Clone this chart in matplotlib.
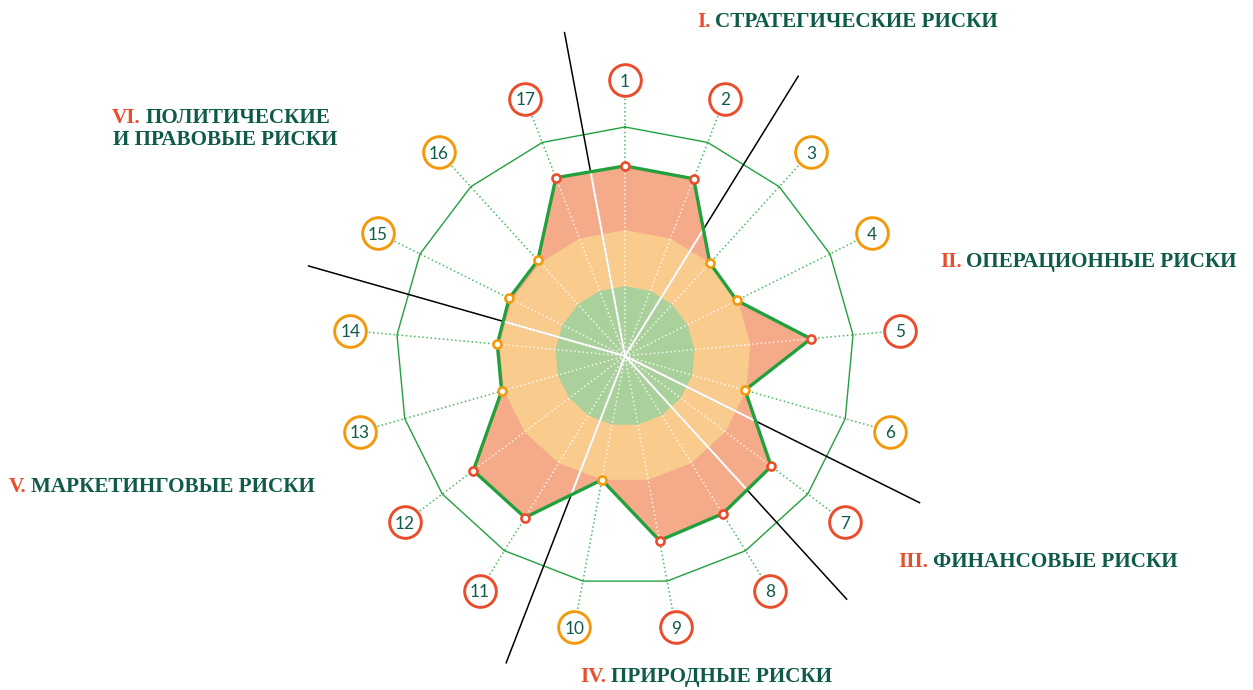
import numpy as np
import matplotlib
matplotlib.use("Agg")
import matplotlib.pyplot as plt

# Risk numbers around the chart, clockwise from the top
risk_ids = list(range(1, 18))
risk_level = [8.3, 8.3, 5.5, 5.45, 8.15, 5.45, 8.0, 8.1, 8.2, 5.5,
              8.3, 8.3, 5.6, 5.6, 5.65, 5.65, 8.35]
risk_grade = ["high", "high", "mid", "mid", "high", "mid", "high", "high", "high",
              "mid", "high", "high", "mid", "mid", "mid", "mid", "high"]

scale_max = 10.0
zone_low = 3.05
zone_mid = 5.5

# Last risk number of every group (group dividers go after these)
group_ends = [2, 6, 7, 10, 14, 17]
group_numerals = ["I.", "II.", "III.", "IV.", "V.", "VI."]
group_names = ["СТРАТЕГИЧЕСКИЕ РИСКИ", "ОПЕРАЦИОННЫЕ РИСКИ", "ФИНАНСОВЫЕ РИСКИ",
               "ПРИРОДНЫЕ РИСКИ", "МАРКЕТИНГОВЫЕ РИСКИ", "ПОЛИТИЧЕСКИЕ"]
group_name_extra = {5: "И ПРАВОВЫЕ РИСКИ"}

# ---- styling ----
W, H, DPI = 1253, 690, 100
RED = "#e94d2b"
ORANGE = "#f39a0c"
GRADE_COLOR = {"high": RED, "mid": ORANGE}
LINE_GREEN = "#22a03d"
DOT_GREEN = "#4db862"
TEXT_GREEN = "#0f5b49"
FILL_HIGH = "#f5aa8a"
FILL_MID = "#f9cc8e"
FILL_LOW = "#aad09b"

CX, CY = 625, 356          # centre of the chart, pixels from top-left
R_PX = 229                  # radius of the outer ring in pixels
R_MAX = 1.45                # polar limit, in units of the outer ring
LABEL_R = 1.205
DIVIDER_R = 1.44
HEAD_SIZE = 15.2

fig = plt.figure(figsize=(W / DPI, H / DPI), dpi=DPI)
half = R_MAX * R_PX
ax = fig.add_axes([(CX - half) / W, (H - CY - half) / H, 2 * half / W, 2 * half / H],
                  projection="polar")
ax.set_theta_zero_location("N")
ax.set_theta_direction(-1)
ax.set_ylim(0, R_MAX * scale_max)
ax.axis("off")

n = len(risk_ids)
theta = 2 * np.pi * np.arange(n) / n
theta_c = np.append(theta, theta[0])
level_c = np.append(risk_level, risk_level[0])

# spokes running out to the numbered circles
label_r = LABEL_R * scale_max
spoke_end = label_r - 17 / R_PX * scale_max
for t in theta:
    ax.plot([t, t], [0, spoke_end], color=DOT_GREEN, lw=1.1,
            linestyle=(0, (1, 1.7)), zorder=1)

# outer ring
ax.plot(theta_c, [scale_max] * (n + 1), color=LINE_GREEN, lw=1.0, zorder=1.5)

# risk profile fill and the coloured zones inside it
profile = ax.fill(theta_c, level_c, color=FILL_HIGH, lw=0, zorder=2)[0]
mid_zone = ax.fill(theta_c, [zone_mid] * (n + 1), color=FILL_MID, lw=0, zorder=2.1)[0]
low_zone = ax.fill(theta_c, [zone_low] * (n + 1), color=FILL_LOW, lw=0, zorder=2.2)[0]
mid_zone.set_clip_path(profile)
low_zone.set_clip_path(profile)

# white dotted spokes inside the profile
for t in theta:
    ln, = ax.plot([t, t], [0, spoke_end], color="white", lw=1.1, alpha=0.85,
                  linestyle=(0, (1, 1.7)), zorder=3)
    ln.set_clip_path(profile)

# group dividers: black outside, white inside the profile
step = 2 * np.pi / n
for k in group_ends:
    t = (k - 0.5) * step
    ax.plot([t, t], [0, DIVIDER_R * scale_max], color="black", lw=1.1, zorder=3.2,
            solid_capstyle="butt")
    wl, = ax.plot([t, t], [0, DIVIDER_R * scale_max], color="white", lw=1.6, zorder=3.4,
                  solid_capstyle="butt")
    wl.set_clip_path(profile)

# profile outline
ax.plot(theta_c, level_c, color=LINE_GREEN, lw=2.4, zorder=4, solid_joinstyle="miter")

# markers and numbered circles
for t, v, g, rid in zip(theta, risk_level, risk_grade, risk_ids):
    c = GRADE_COLOR[g]
    ax.plot([t], [v], marker="o", ms=5.8, mfc="white", mec=c, mew=1.9, zorder=5)
    ax.plot([t], [label_r], marker="o", ms=22.8, mfc="white", mec=c, mew=2.1, zorder=5)
    ax.text(t, label_r, str(rid), ha="center", va="center_baseline", fontsize=12.4,
            family=["Lato", "DejaVu Sans"], color=TEXT_GREEN, zorder=6)

# group headings: (left x, baseline y) in pixels
HEAD_FONT = ["DejaVu Serif Condensed", "Liberation Serif", "DejaVu Serif"]
head_pos = [(697, 26.7), (940, 266.7), (898, 567), (580, 682), (9, 491.7), (112, 123)]
for i, (num, name) in enumerate(zip(group_numerals, group_names)):
    x, y = head_pos[i]
    t1 = fig.text(x / W, 1 - y / H, num, color=RED, fontsize=HEAD_SIZE, fontweight="bold",
                  family=HEAD_FONT, ha="left", va="baseline")
    ax.annotate(name, xy=(1, 0), xycoords=t1, xytext=(3.5, 0), textcoords="offset points",
                ha="left", va="bottom", color=TEXT_GREEN, fontsize=HEAD_SIZE,
                fontweight="bold", family=HEAD_FONT)
    if i in group_name_extra:
        fig.text((x + 1) / W, 1 - (y + 22) / H, group_name_extra[i], color=TEXT_GREEN,
                 fontsize=HEAD_SIZE, fontweight="bold", family=HEAD_FONT,
                 ha="left", va="baseline")

fig.savefig("out.png", dpi=DPI, facecolor="white")
